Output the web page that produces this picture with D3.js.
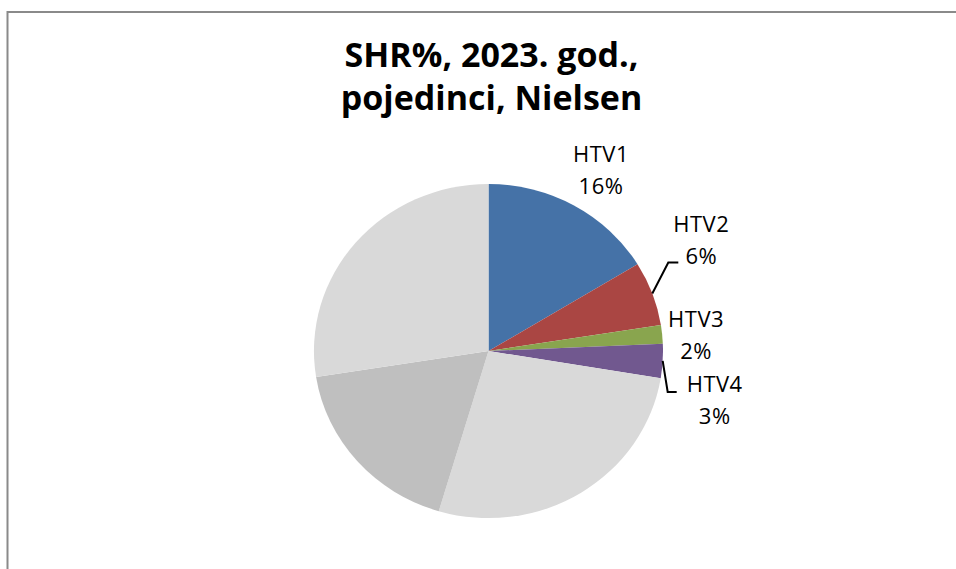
<!DOCTYPE html>
<html>
<head>
<meta charset="utf-8">
<script src="https://cdn.jsdelivr.net/npm/d3@7"></script>
<style>
  html, body { margin: 0; padding: 0; background: #fff; }
  svg { display: block; }
</style>
</head>
<body>
<svg id="chart" width="956" height="569"></svg>
<script>
// ---- data ----
const categories = ["HTV1", "HTV2", "HTV3", "HTV4", "Ostali 1", "Ostali 2", "Ostali 3"];
const shares = [16.3, 6.2, 1.8, 3.3, 27.0, 17.9, 27.5];
const colors = ["#4572A7", "#AA4643", "#89A54E", "#71588F", "#D9D9D9", "#BFBFBF", "#D9D9D9"];
const labelled = ["HTV1", "HTV2", "HTV3", "HTV4"];
const titleLines = ["SHR%, 2023. god.,", "pojedinci, Nielsen"];

// ---- layout ----
const svg = d3.select("#chart");
const cx = 488.5, cy = 351, rx = 174.5, ry = 167;

// chart frame
svg.append("rect")
  .attr("x", 7.5).attr("y", 12)
  .attr("width", 1200).attr("height", 1200)
  .attr("fill", "none")
  .attr("stroke", "#8a8a8a")
  .attr("stroke-width", 2);

// title
const title = svg.append("text")
  .attr("text-anchor", "middle")
  .attr("font-family", "'Open Sans', sans-serif")
  .attr("font-weight", "bold")
  .attr("font-size", 34)
  .attr("fill", "#000");
title.selectAll("tspan").data(titleLines).join("tspan")
  .attr("x", 491.5)
  .attr("y", (d, i) => 67 + i * 43)
  .text(d => d);

// pie
const data = categories.map((c, i) => ({ name: c, value: shares[i], color: colors[i] }));
const pie = d3.pie().value(d => d.value).sort(null);
const arcs = pie(data);
const arc = d3.arc().innerRadius(0).outerRadius(1);

const g = svg.append("g").attr("transform", `translate(${cx},${cy}) scale(${rx},${ry})`);
g.selectAll("path").data(arcs).join("path")
  .attr("d", arc)
  .attr("fill", d => d.data.color)
  .attr("stroke", "none");

// label helpers
function edgePoint(a) {
  const m = (a.startAngle + a.endAngle) / 2;
  return [cx + rx * Math.sin(m), cy - ry * Math.cos(m)];
}
// label placement offsets (relative to slice edge point at mid angle)
const labelOffsets = {
  HTV1: { dx: 27, dy: -43, leader: null },
  HTV2: { dx: 49, dy: -61, leader: { bend: [16, -31], end: [26, -31] } },
  HTV3: { dx: 34, dy: -7, leader: null },
  HTV4: { dx: 52, dy: 31, leader: { bend: [5, 31], end: [14, 31] } }
};
const lineGap = 32;

const labels = svg.append("g")
  .attr("font-family", "'Open Sans', sans-serif")
  .attr("font-size", 22)
  .attr("letter-spacing", 0.5)
  .attr("fill", "#000");

arcs.filter(a => labelled.includes(a.data.name)).forEach(a => {
  const [ex, ey] = edgePoint(a);
  const o = labelOffsets[a.data.name];
  const t = labels.append("text").attr("text-anchor", "middle");
  const pct = Math.round(a.data.value) + "%";
  [a.data.name, pct].forEach((s, i) => {
    t.append("tspan").attr("x", ex + o.dx).attr("y", ey + o.dy + i * lineGap).text(s);
  });
  if (o.leader) {
    const pts = [[ex, ey], [ex + o.leader.bend[0], ey + o.leader.bend[1]], [ex + o.leader.end[0], ey + o.leader.end[1]]];
    svg.append("path")
      .attr("d", d3.line()(pts))
      .attr("fill", "none")
      .attr("stroke", "#000")
      .attr("stroke-width", 2);
  }
});
</script>
</body>
</html>
